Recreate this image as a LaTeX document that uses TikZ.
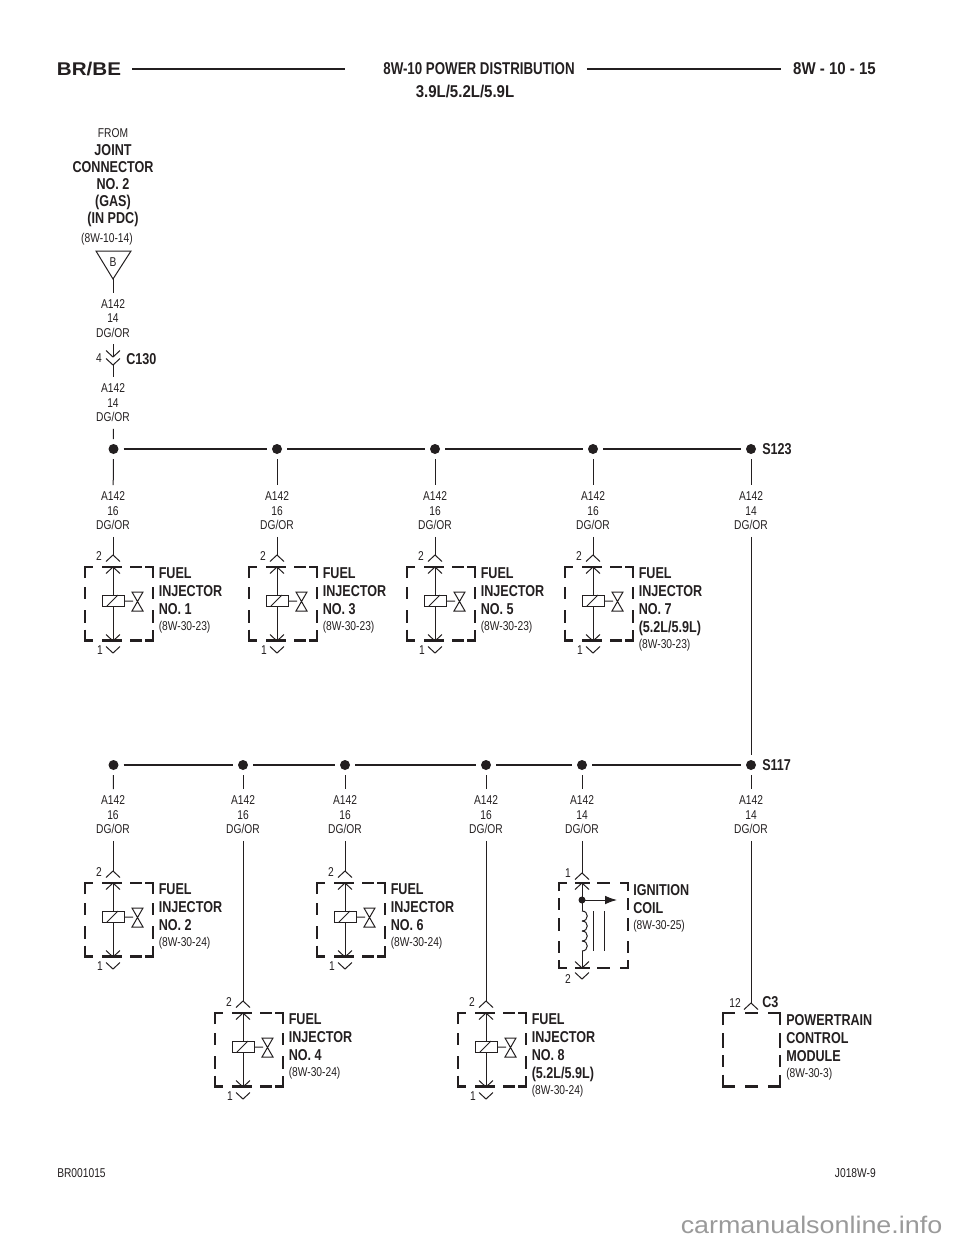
\documentclass[tikz,border=0pt]{standalone}
\usepackage{fontspec}
\setmainfont[FakeStretch=.8]{Liberation Sans}
\newfontfamily\widefont[FakeStretch=1.12]{Liberation Sans}
\newfontfamily\titlefont[FakeStretch=.78]{Liberation Sans}
\newfontfamily\pagefont[FakeStretch=.88]{Liberation Sans}
\usetikzlibrary{positioning,arrows.meta}
\definecolor{inkblack}{HTML}{231F20}
\definecolor{markgray}{HTML}{9A9A9A}
\begin{document}
\begin{tikzpicture}[x=.75pt,y=-.75pt,inkblack,
	wire/.style={draw=inkblack,line width=.75pt},
	bus/.style={draw=inkblack,line width=1.6pt},
	boxline/.style={draw=inkblack,line width=1.6pt},
	dot/.style={circle,fill=inkblack,inner sep=0pt,minimum size=7.5pt,outer sep=3.75pt},
	tiny8/.style={inner sep=0pt,font=\fontsize{9.6}{10.9}\selectfont,align=center},
	wirelabel/.style={tiny8,minimum height=38.5pt},
	bold12/.style={inner sep=0pt,font=\fontsize{11.8}{13.5}\selectfont\bfseries,align=left},
	head/.style={inner sep=0pt,font=\pagefont\fontsize{12.8}{14}\selectfont\bfseries}]
	\useasboundingbox (0,0) rectangle (960,1242);
	\def\chev#1#2#3{\draw[wire] (#1-7,#2+#3*6.5) -- (#1,#2) -- (#1+7,#2+#3*6.5);}
	\def\dashbox#1#2#3#4#5#6#7#8{\begin{scope}[shift={(#1,#2)}]
		\draw[boxline] (0,#8) -- (0,0) -- (#5,0) (#3-#5,0) -- (#3,0) -- (#3,#8)
		(0,#4-#8) -- (0,#4) -- (#5,#4) (#3-#5,#4) -- (#3,#4) -- (#3,#4-#8);
		\foreach \a/\b in {#6} \draw[boxline] (\a,0) -- (\b,0) (\a,#4) -- (\b,#4);
		\foreach \a/\b in {#7} \draw[boxline] (0,\a) -- (0,\b) (#3,\a) -- (#3,\b);
	\end{scope}}
	% header and footer
	\node[inner sep=0pt,font=\widefont\fontsize{13.8}{16}\selectfont\bfseries] (brbe) at (89,69) {BR/BE};
	\node[head,font=\titlefont\fontsize{12.8}{14}\selectfont\bfseries] (title) at (479,69) {8W-10 POWER DISTRIBUTION};
	\node[head] (engines) at (465,91) {3.9L/5.2L/5.9L};
	\node[head] (page) at (834.5,69) {8W - 10 - 15};
	\draw[bus] (brbe.east)+(11,0) -- ++(224,0) (title.east)+(12,0) -- ++(206,0);
	\node[tiny8,anchor=west] (figno) at (57,1173) {BR001015};
	\node[tiny8,anchor=east] (jobno) at (876,1173) {J018W-9};
	\node[inner sep=0pt,text=markgray,font=\widefont\fontsize{18}{20}\selectfont] (site) at (811.5,1225) {carmanualsonline.info};
	% source
	\node[tiny8] (from) at (113,133) {FROM};
	\node[bold12,align=center,font=\fontsize{11.8}{12.75}\selectfont\bfseries] (joint) at (113,185.5) {JOINT\\CONNECTOR\\NO. 2\\(GAS)\\(IN PDC)};
	\node[tiny8] (srcref) at (107,239) {(8W-10-14)};
	\path (96,251) coordinate (tl) (131,251) coordinate (tr) (113,279) coordinate (apex)
	(113,357) coordinate (c130a) (113,365) coordinate (c130b);
	\draw[wire] (tl)--(tr)--(apex)--cycle;
	\node[tiny8] (srcb) at (113,262) {B};
	\node[wirelabel] (la) at (113,318.5) {A142\\14\\DG/OR};
	\node[wirelabel] (lb) at (113,403) {A142\\14\\DG/OR};
	\node[tiny8] (pin4) at (99,358) {4};
	\node[bold12,anchor=west] (c130) at (126,359) {C130};
	\draw[wire] (apex)--(la) (la)--(c130a) (c130b)--(lb);
	\chev{113}{357}{-1}
	\chev{113}{365}{-1}
	% splices
	\foreach \x/\y/\n in {113.5/449/1,277/449/3,435/449/5,593/449/7,751/449/123,
		113.5/765/2,243/765/4,345/765/6,486/765/8,582/765/9,751/765/117}
		\node[dot] (j\n) at (\x,\y) {};
	\foreach \a/\b in {1/3,3/5,5/7,7/123,2/4,4/6,6/8,8/9,9/117} \draw[bus] (j\a)--(j\b);
	\node[bold12,anchor=west] (s123) at (762,449) {S123};
	\node[bold12,anchor=west] (s117) at (762,765) {S117};
	\draw[wire] (lb)--(j1);
	% wire labels
	\foreach \x/\y/\n/\g in {113/511/1/16,277/511/3/16,435/511/5/16,593/511/7/16,751/511/123/14,
		113/815/2/16,243/815/4/16,345/815/6/16,486/815/8/16,582/815/9/14,751/815/117/14}{
		\node[wirelabel] (l\n) at (\x,\y) {A142\\\g\\DG/OR};
		\draw[wire] (j\n)--(l\n);
	}
	\draw[wire] (l123)--(j117);
	% injectors
	\foreach \x/\T/\n/\r/\e in {113/567/1/23/{},277/567/3/23/{},435/567/5/23/{},593/567/7/23/{\\(5.2L/5.9L)},
		113/883/2/24/{},345/883/6/24/{},243/1013/4/24/{},486/1013/8/24/{\\(5.2L/5.9L)}}{
		\coordinate (t\n) at (\x,\T-12);
		\draw[wire] (l\n)--(t\n);
		\chev{\x}{\T-12}{1}
		\dashbox{\x-28}{\T}{68}{73.5}{8}{17/37,45/57}{20/32,43/56}{11}
		\draw[wire] (\x,\T) -- (\x,\T+74);
		\chev{\x}{\T}{1}
		\chev{\x}{\T+74}{-1}
		\chev{\x}{\T+86}{-1}
		\draw[wire,fill=white] (\x-11,\T+28) rectangle (\x+11,\T+39);
		\draw[wire] (\x-6,\T+39) -- (\x+5,\T+28) (\x+11,\T+34) -- (\x+20,\T+34)
		(\x+19,\T+25) -- (\x+30,\T+25) -- (\x+19,\T+44) -- (\x+30,\T+44) -- cycle;
		\node[tiny8] (pa\n) at (\x-14,\T-11) {2};
		\node[tiny8] (pb\n) at (\x-13,\T+83) {1};
		\node[bold12,anchor=north west] (name\n) at (\x+45.5,\T) {FUEL\\INJECTOR\\NO. \n\e\vphantom{(}};
		\node[tiny8,below right=2.5pt and 0pt of name\n.south west] (ref\n) {(8W-30-\r)};
	}
	% ignition coil
	\path (582,883) coordinate (ctop) (582,900) coordinate (ctap) (582,911) coordinate (cs) (582,951) coordinate (ce) (582,968) coordinate (cbot)
	(617,900) coordinate (carrow) (582,873) coordinate (t9);
	\draw[wire] (l9)--(t9);
	\chev{582}{873}{1}
	\dashbox{559}{883}{69}{85}{8}{16/31,38/51}{15/27,35/48,58/70}{8}
	\draw[wire] (ctop)--(cs) (ce)--(cbot);
	\foreach \k in {0,1,2,3}
		\draw[wire] (582,911+10*\k) .. controls (589,911+10*\k) and (589,921+10*\k) .. (582,921+10*\k);
	\draw[wire] (593,911) -- (593,951) (604,911) -- (604,951);
	\draw[wire,-{Latex[length=9pt,width=6.5pt]}] (ctap)--(carrow);
	\fill (ctap) circle (3.5);
	\chev{582}{883}{1}
	\chev{582}{968}{-1}
	\chev{582}{979}{-1}
	\node[tiny8] (pa9) at (568,873) {1};
	\node[tiny8] (pb9) at (568,979) {2};
	\node[bold12,anchor=north west] (name9) at (633,884) {IGNITION\\COIL\vphantom{(}};
	\node[tiny8,below right=2.5pt and 0pt of name9.south west] (ref9) {(8W-30-25)};
	% pcm
	\coordinate (t117) at (751,1003);
	\draw[wire] (l117)--(t117);
	\chev{751}{1003}{1}
	\dashbox{723}{1013}{57}{73.5}{12}{22/35}{20/35,42/54}{12}
	\node[tiny8] (p12) at (735,1003) {12};
	\node[bold12,anchor=west] (c3) at (762,1002) {C3};
	\node[bold12,anchor=north west] (name10) at (786,1014) {POWERTRAIN\\CONTROL\\MODULE\vphantom{(}};
	\node[tiny8,below right=2.5pt and 0pt of name10.south west] (ref10) {(8W-30-3)};
\end{tikzpicture}
\end{document}
